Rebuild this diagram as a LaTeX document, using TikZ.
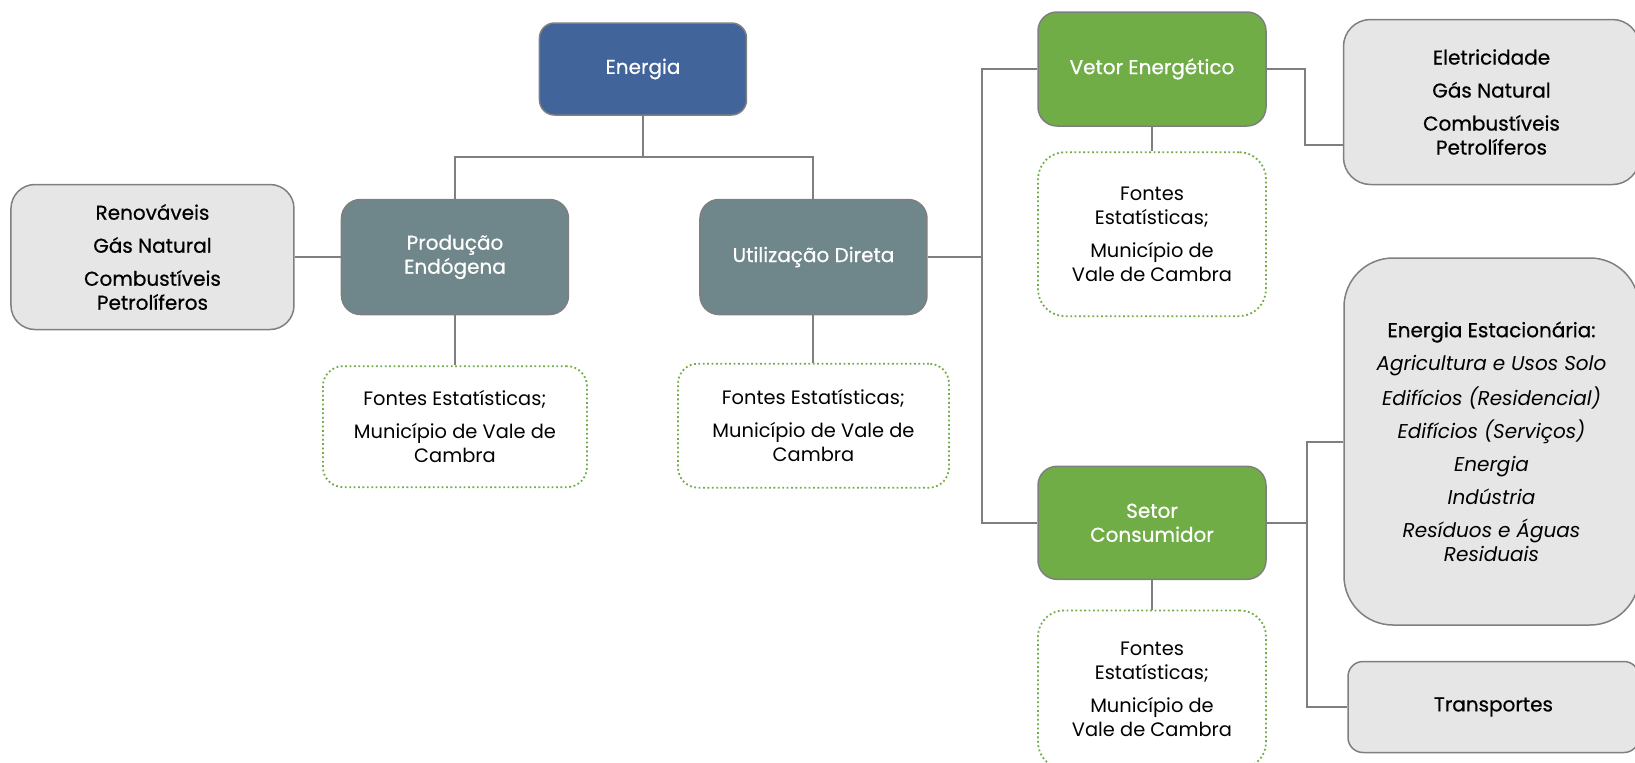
\documentclass[tikz,border=0pt]{standalone}
\usepackage{fontspec}
\setmainfont{Poppins}
\newfontfamily\medfont{Poppins}[FakeBold=0.6]
\usepackage{xcolor}
\definecolor{enblue}{RGB}{65,100,155}
\definecolor{enslate}{RGB}{111,135,138}
\definecolor{engreen}{RGB}{112,173,71}
\definecolor{enlight}{RGB}{231,230,230}
\definecolor{enline}{RGB}{127,127,127}
\usepackage{tikz}
\usetikzlibrary{positioning}
\tikzset{
  box/.style     ={rectangle,draw=enline,line width=0.75pt,align=center,
                   font=\medfont\fontsize{10}{12}\selectfont},
  headbox/.style ={box,fill=enblue,text=white,rounded corners=7.5pt,
                   minimum width=103.5pt,minimum height=46pt},
  tealbox/.style ={box,fill=enslate,text=white,rounded corners=9.5pt,
                   minimum width=113.5pt,minimum height=57.5pt},
  greenbox/.style={box,fill=engreen,text=white,rounded corners=9.5pt,
                   minimum width=114pt,minimum height=57pt},
  listbox/.style ={box,fill=enlight,text=black},
  srcbox/.style  ={box,draw=engreen,line width=0.9pt,dash pattern=on 0.9pt off 1.3pt,
                   font=\fontsize{9.7}{12}\selectfont,rounded corners=10pt,minimum width=114pt},
  link/.style    ={draw=enline,line width=1pt},
}
\newcommand{\sectorname}[1]{{\normalfont\itshape #1}}

\begin{document}
\begin{tikzpicture}[node distance=24pt and 65pt]
  \useasboundingbox (-321.5pt,34.5pt) rectangle (496pt,-346.5pt);
  \node[headbox] (energia) {Energia};
  \node[tealbox,below=41.5pt of energia,xshift=-94pt] (prod) {Produção\\Endógena};
  \node[tealbox,right=of prod] (util) {Utilização Direta};
  \node[listbox,left=23pt of prod,rounded corners=12pt,minimum width=141.5pt,minimum height=72.5pt] (renov)
    {Renováveis\\[4.5pt]Gás Natural\\[4.5pt]Combustíveis\\Petrolíferos};
  \node[srcbox,below=25pt of prod,minimum width=132pt,minimum height=60.5pt] (src1)
    {Fontes Estatísticas;\\[4.5pt]Município de Vale de\\Cambra};
  \node[srcbox,below=23.75pt of util,minimum width=135.5pt,minimum height=62pt] (src2)
    {Fontes Estatísticas;\\[4.5pt]Município de Vale de\\Cambra};
  \node[greenbox,right=54.75pt of util,yshift=94pt] (vetor) {Vetor Energético};
  \node[srcbox,below=12.25pt of vetor,minimum height=82pt,rounded corners=13.5pt] (src3)
    {Fontes\\Estatísticas;\\[4.5pt]Município de\\Vale de Cambra};
  \node[greenbox,below=74.25pt of src3,minimum height=56.5pt] (setor) {Setor\\Consumidor};
  \node[srcbox,below=14.75pt of setor,minimum height=79pt,rounded corners=13pt] (src4)
    {Fontes\\Estatísticas;\\[4.5pt]Município de\\Vale de Cambra};
  \node[listbox,right=38pt of vetor,yshift=-16.5pt,rounded corners=13.5pt,minimum width=148pt,minimum height=82.5pt] (elet)
    {Eletricidade\\[4.5pt]Gás Natural\\[4.5pt]Combustíveis\\Petrolíferos};
  \node[listbox,below=36pt of elet,rounded corners=24.5pt,minimum width=147.5pt,minimum height=183.5pt] (estac)
    {Energia Estacionária:\\[4.5pt]\sectorname{Agricultura e Usos Solo}\\[4.5pt]\sectorname{Edifícios (Residencial)}\\[4.5pt]
     \sectorname{Edifícios (Serviços)}\\[4.5pt]\sectorname{Energia}\\[4.5pt]\sectorname{Indústria}\\[4.5pt]
     \sectorname{Resíduos e Águas}\\\sectorname{Residuais}};
  \node[listbox,below=17.5pt of estac,xshift=1pt,rounded corners=7.5pt,minimum width=145.5pt,minimum height=45.5pt] (transp)
    {Transportes};
  \draw[link] (energia.south) -- ++(0,-20.5pt) coordinate (split);
  \draw[link] (prod.north) |- (split) -| (util.north);
  \draw[link] (renov.east) -- (prod.west);
  \draw[link] (prod.south) -- (src1.north);
  \draw[link] (util.south) -- (src2.north);
  \draw[link] (util.east) -- ++(27.25pt,0) coordinate (busA);
  \draw[link] (vetor.west) -| (busA) |- (setor.west);
  \draw[link] (vetor.east) -- ++(19pt,0) |- ([yshift=-21.5pt]elet.west);
  \draw[link] (vetor.south) -- (src3.north);
  \draw[link] (setor.south) -- (src4.north);
  \draw[link] (setor.east) -- ++(20pt,0) coordinate (busB);
  \draw[link] (estac.west) -| (busB) |- (transp.west);
\end{tikzpicture}
\end{document}
